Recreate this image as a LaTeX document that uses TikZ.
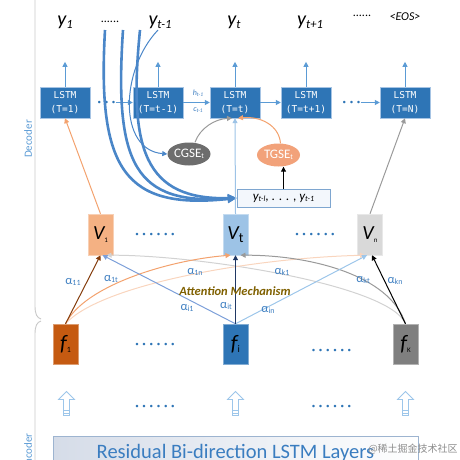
\documentclass[tikz,border=0pt]{standalone}
\usepackage{fontspec}
\setmainfont{Carlito}
\newfontfamily\monofont{DejaVu Sans Mono}
\newfontfamily\cjkfont{Noto Sans CJK SC}
\usetikzlibrary{arrows.meta, shapes.geometric, shapes.arrows}

\definecolor{lstmfill}{HTML}{2E75B6}
\definecolor{lstmedge}{HTML}{A6C4E4}
\definecolor{linkblue}{HTML}{5B9BD5}
\definecolor{curveblue}{HTML}{4A86C8}
\definecolor{labelblue}{HTML}{3F7FC1}
\definecolor{sidegray}{HTML}{C8C8C8}
\definecolor{vecorange}{HTML}{F4B183}
\definecolor{vecblue}{HTML}{9DC3E6}
\definecolor{vecgray}{HTML}{D9D9D9}
\definecolor{featorange}{HTML}{C55A11}
\definecolor{featblue}{HTML}{2E75B6}
\definecolor{featgray}{HTML}{7F7F7F}
\definecolor{cgsegray}{HTML}{6D6D6D}
\definecolor{tgseorange}{HTML}{F2A27A}
\definecolor{histfill}{HTML}{F3F7FC}
\definecolor{histedge}{HTML}{7EA6D0}
\definecolor{brownline}{HTML}{843C0C}
\definecolor{orangeline}{HTML}{F3A26E}
\definecolor{paleorange}{HTML}{F9D5BE}
\definecolor{navyline}{HTML}{203864}
\definecolor{midblue}{HTML}{7C9FD9}
\definecolor{paleblue}{HTML}{9DC6EA}
\definecolor{grayline}{HTML}{9A9A9A}
\definecolor{palegray}{HTML}{D2D2D2}
\definecolor{mechcolor}{HTML}{7F6000}
\definecolor{layerleft}{HTML}{D5DCE8}
\definecolor{layeredge}{HTML}{9DB4D0}
\definecolor{layertext}{HTML}{3A7DC0}

\newcommand\lowidx[2]{\raisebox{-0.12em}{\fontsize{#1}{#1}\selectfont #2}}
\newcommand\dotrow[1]{\foreach \k in {1,...,#1}{\ifnum\k>1\hspace{3.7pt}\fi\textbullet}}

\tikzset{
  lstm/.style={draw=lstmedge, fill=lstmfill, text=white, minimum width=50pt, minimum height=31pt,
    inner sep=0pt, align=center, font=\monofont\fontsize{9.5}{14}\selectfont},
  output/.style={anchor=base, inner sep=0pt, font=\itshape\fontsize{20}{20}\selectfont},
  eos/.style={inner sep=0pt, font=\itshape\fontsize{12}{12}\selectfont},
  ellipsis/.style={anchor=base, inner sep=0pt, font=\fontsize{12}{12}\selectfont},
  dotgap/.style={inner sep=0pt, text=lstmfill, font=\fontsize{7}{7}\selectfont},
  vec/.style={fill=#1, draw=#1!60!white, minimum width=25pt, minimum height=41pt, inner sep=0pt,
    font=\itshape\fontsize{20}{20}\selectfont},
  feat/.style={fill=#1, draw=#1!60!white, minimum width=25pt, minimum height=40pt, inner sep=0pt,
    font=\itshape\fontsize{22}{22}\selectfont},
  gate/.style={ellipse, fill=#1, text=white, minimum width=43pt, minimum height=23pt, inner sep=0pt,
    font=\fontsize{13}{13}\selectfont},
  recent/.style={draw=histedge, fill=histfill, minimum width=93pt, minimum height=18pt, inner sep=0pt,
    font=\itshape\fontsize{13}{13}\selectfont},
  weight/.style={text=labelblue, inner sep=0pt, font=\fontsize{12.5}{12.5}\selectfont},
  side/.style={rotate=90, text=linkblue, inner sep=0pt, font=\fontsize{11}{11}\selectfont},
  brace/.style={draw=sidegray, line width=0.9pt},
  feed/.style={-{Triangle[length=5pt, width=5pt]}, line width=1pt, #1},
  feed/.default=linkblue,
  recall/.style={-{Triangle[length=9pt, width=8pt]}, curveblue, line width=2.6pt},
  input arrow/.style={single arrow, shape border rotate=90, draw=paleblue, fill=white, line width=0.8pt,
    minimum height=24pt, inner sep=2.6pt, single arrow head extend=5pt},
}

\begin{document}
\begin{tikzpicture}[x=1pt, y=-1pt]
\useasboundingbox (0,0) rectangle (460,460);

\draw[brace] (35,0) -- (35,306) .. controls (35,314) and (37,318) .. (41,319);
\draw[brace] (41,321) .. controls (37,322) and (35,326) .. (35,334) -- (35,460);
\node[side] (decoder) at (28,139) {Decoder};
\node[side, anchor=east] (encoder) at (28,433) {Encoder};

\node[lstm] (lstm_1) at (65,102.5) {LSTM\\(T=1)};
\node[lstm] (lstm_prev) at (158,102.5) {LSTM\\(T=t-1)};
\node[lstm] (lstm_t) at (235,102.5) {LSTM\\(T=t)};
\node[lstm] (lstm_next) at (306,102.5) {LSTM\\(T=t+1)};
\node[lstm] (lstm_n) at (405,102.5) {LSTM\\(T=N)};
\node[dotgap] (gap_left) at (106.5,102.5) {\dotrow{3}};
\node[dotgap] (gap_right) at (351.5,102.5) {\dotrow{3}};

\node[output] (y_1) at (65,26) {y\lowidx{12.5}{1}};
\node[output] (y_prev) at (160,26) {y\lowidx{12.5}{t-1}};
\node[output] (y_t) at (234,26) {y\lowidx{12.5}{t}};
\node[output] (y_next) at (310,26) {y\lowidx{12.5}{t+1}};
\node[eos] (y_eos) at (405,17) {<EOS>};
\node[ellipsis] (out_gap_left) at (110,23) {......};
\node[ellipsis] (out_gap_right) at (362,17) {......};

\foreach \n in {1,prev,t,next,n} {
  \coordinate (out_\n) at ([yshift=25pt]lstm_\n.north);
  \draw[feed] (lstm_\n.north) -- (out_\n);
}
\draw[feed] (gap_left.east) -- (lstm_prev.west);
\draw[feed] (lstm_prev.east) -- (lstm_t.west);
\draw[feed] (lstm_t.east) -- (lstm_next.west);
\draw[feed] (gap_right.east) -- (lstm_n.west);
\node[text=labelblue, font=\itshape\fontsize{8}{8}\selectfont] (hidden) at (198,93) {h\lowidx{5.5}{t-1}};
\node[text=labelblue, font=\itshape\fontsize{8}{8}\selectfont] (cell) at (198,110) {c\lowidx{5.5}{t-1}};

\node[gate=cgsegray] (cgse) at (189,154) {CGSE\lowidx{7.5}{t}};
\node[gate=tgseorange] (tgse) at (278.5,155) {TGSE\lowidx{7.5}{t}};
\node[recent] (history) at (283.5,198) {y\lowidx{8}{t-l}\upshape, . . . , \itshape y\lowidx{8}{t-1}};

\coordinate (src_1) at (105,30);
\coordinate (src_2) at (123,30);
\coordinate (src_3) at (140,30);
\coordinate (src_4) at (158,30);
\draw[recall] (src_1) .. controls (97,170) and (125,210) .. (history.west);
\draw[recall] (src_2) .. controls (114,165) and (135,205) .. (history.west);
\draw[recall] (src_3) .. controls (128,150) and (145,200) .. (history.west);
\draw[feed=curveblue] (src_4) .. controls (120,70) and (118,150) .. (cgse.west);

\node[vec=vecorange] (vec_1) at (100.5,234.5) {V\lowidx{7}{\upshape 1}};
\node[vec=vecblue] (vec_t) at (235.5,234.5) {V\lowidx{14}{\upshape t}};
\node[vec=vecgray] (vec_n) at (370,234.5) {V\lowidx{7}{\upshape n}};
\node[dotgap] (vec_gap_left) at (155,235) {\dotrow{6}};
\node[dotgap] (vec_gap_right) at (315,235) {\dotrow{6}};

\draw[feed=grayline] ([xshift=6pt]cgse.north) .. controls (200,128) and (215,119) .. ([xshift=-3pt]lstm_t.south);
\draw[feed=orangeline] ([xshift=2pt]tgse.north) .. controls (279,125) and (260,116) .. ([xshift=3pt]lstm_t.south);
\draw[feed=vecblue] (vec_t.north) -- (lstm_t.south);
\draw[feed=black] (history.north) -- (history.north |- tgse.south);
\draw[feed=orangeline] (vec_1.north) -- (lstm_1.south);
\draw[feed=grayline] (vec_n.north) -- (lstm_n.south);

\node[feat=featorange] (feat_1) at (65.5,344) {f\lowidx{8}{\upshape 1}};
\node[feat=featblue] (feat_i) at (235.5,344) {f\lowidx{10}{\upshape i}};
\node[feat=featgray] (feat_k) at (405.5,344) {f\lowidx{7}{\upshape K}};
\node[dotgap] (feat_gap_left) at (155,345) {\dotrow{6}};
\node[dotgap] (feat_gap_right) at (331.5,351) {\dotrow{6}};

\draw[feed=palegray] (feat_k.north) .. controls (390,285) and (200,255) .. ([xshift=6pt]vec_1.south);
\draw[feed=paleorange] (feat_1.north) .. controls (100,285) and (250,258) .. ([xshift=-5pt]vec_n.south);
\draw[feed=orangeline] (feat_1.north) .. controls (85,285) and (170,260) .. ([xshift=-5pt]vec_t.south);
\draw[feed=grayline] (feat_k.north) .. controls (390,275) and (310,255) .. ([xshift=5pt]vec_t.south);
\draw[feed=brownline] (feat_1.north) -- (vec_1.south);
\draw[feed=midblue] (feat_i.north) -- ([xshift=2pt]vec_1.south);
\draw[feed=paleblue] (feat_i.north) -- ([xshift=-3pt]vec_n.south);
\draw[feed=navyline] (feat_i.north) -- (vec_t.south);
\draw[feed=black] (feat_k.north) -- ([xshift=2pt]vec_n.south);

\foreach \s/\x/\y in {11/73/282, 1t/111/279, 1n/195/272, i1/187/308, it/226/306, in/268/310, k1/282/272, kt/363/280, kn/395/281}
  \node[weight] (alpha_\s) at (\x,\y) {α\lowidx{8}{\s}};
\node[text=mechcolor, inner sep=0pt, font=\bfseries\itshape\fontsize{12.5}{12.5}\selectfont] (attention) at (235,291) {Attention Mechanism};

\foreach \n/\x in {1/66.5, i/235.5, k/405.5} {
  \node[input arrow] (in_\n) at (\x,405) {};
  \draw[paleblue, line width=0.7pt] ([xshift=-2.6pt, yshift=3pt]in_\n.tail) -- ([xshift=2.6pt, yshift=3pt]in_\n.tail);
  \draw[paleblue, line width=0.7pt] ([xshift=-2.6pt, yshift=6pt]in_\n.tail) -- ([xshift=2.6pt, yshift=6pt]in_\n.tail);
}
\node[dotgap] (in_gap_left) at (155,407) {\dotrow{6}};
\node[dotgap] (in_gap_right) at (331.5,407) {\dotrow{6}};

\node[draw=layeredge, left color=layerleft, right color=white, anchor=base, minimum width=365pt,
  text height=15pt, text depth=5pt, inner ysep=7pt, text=layertext, font=\fontsize{20.5}{20.5}\selectfont]
  (layers) at (235.5,458) {Residual Bi-direction LSTM Layers};
\node[text=black!45, inner sep=0pt, font=\cjkfont\fontsize{10}{10}\selectfont] (mark) at (413,449) {@稀土掘金技术社区};
\end{tikzpicture}
\end{document}
